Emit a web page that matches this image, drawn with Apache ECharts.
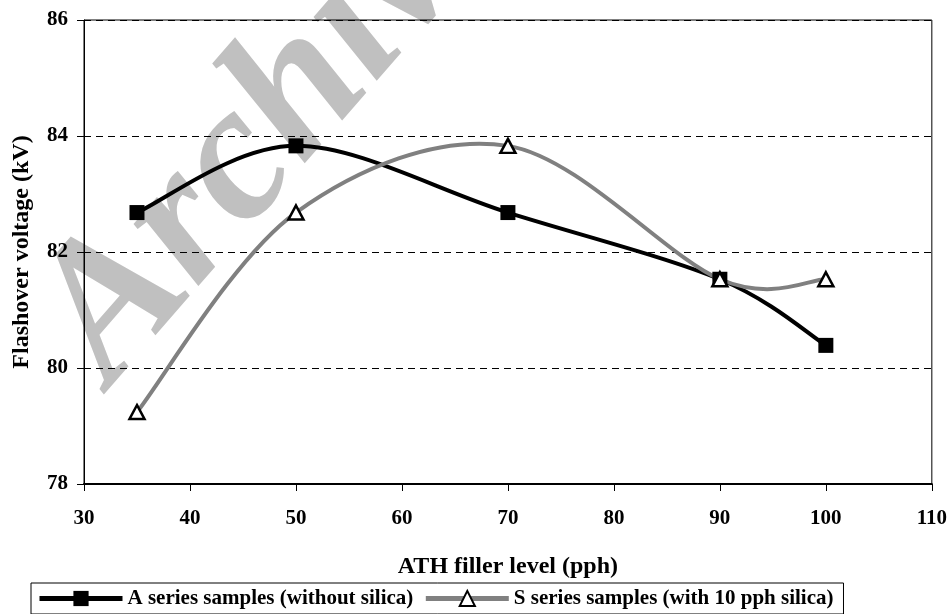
<!DOCTYPE html>
<html>
<head>
<meta charset="utf-8">
<script src="https://cdn.jsdelivr.net/npm/echarts@6/dist/echarts.min.js"></script>
<style>
html,body{margin:0;padding:0;background:#fff;}
#chart{width:950px;height:614px;}
</style>
</head>
<body>
<div id="chart"></div>
<script>
const fillerLevels = [35, 50, 70, 90, 100];
const seriesA = [82.68, 83.83, 82.68, 81.53, 80.39];
const seriesS = [79.24, 82.68, 83.83, 81.53, 81.53];
const nameA = 'A series samples (without silica)';
const nameS = 'S series samples (with 10 pph silica)';
const xTitle = 'ATH filler level (pph)';
const yTitle = 'Flashover voltage (kV)';
const watermark = 'Archive';

const FONT = '"Liberation Serif", "Times New Roman", serif';
const chart = echarts.init(document.getElementById('chart'), null, {renderer: 'canvas'});

// Smoothed curve (Excel-like cardinal spline) drawn through the library's coordinate system
function curveSeries(values, color, width, z) {
  return {
    type: 'custom',
    coordinateSystem: 'cartesian2d',
    silent: true,
    z: z,
    clip: false,
    data: [[fillerLevels[0], values[0]]],
    renderItem: function (params, api) {
      const pts = fillerLevels.map((x, i) => api.coord([x, values[i]]));
      const n = pts.length;
      let d = 'M' + pts[0][0] + ',' + pts[0][1];
      for (let i = 0; i < n - 1; i++) {
        const p0 = pts[Math.max(i - 1, 0)], p1 = pts[i], p2 = pts[i + 1], p3 = pts[Math.min(i + 2, n - 1)];
        const c1x = p1[0] + (p2[0] - p0[0]) / 6, c1y = p1[1] + (p2[1] - p0[1]) / 6;
        const c2x = p2[0] - (p3[0] - p1[0]) / 6, c2y = p2[1] - (p3[1] - p1[1]) / 6;
        d += ' C' + c1x + ',' + c1y + ' ' + c2x + ',' + c2y + ' ' + p2[0] + ',' + p2[1];
      }
      return {
        type: 'path',
        shape: {pathData: d},
        style: {stroke: color, lineWidth: width, fill: null, lineJoin: 'round', lineCap: 'round'}
      };
    }
  };
}

const option = {
  backgroundColor: '#fff',
  animation: false,
  graphic: [{
    type: 'text',
    x: 146, y: 418,
    rotation: 49 * Math.PI / 180,
    z: -10,
    silent: true,
    style: {
      text: watermark,
      font: 'italic bold 195px "Liberation Serif"',
      fill: '#c0c0c0',
      align: 'left',
      verticalAlign: 'bottom'
    }
  }],
  grid: {
    left: 84, right: 17, top: 20, bottom: 130,
    show: true, borderColor: '#000', borderWidth: 1, backgroundColor: 'transparent'
  },
  legend: {
    left: 31, top: 583,
    padding: [5, 10, 5, 6],
    itemWidth: 83, itemHeight: 19, itemGap: 10,
    borderColor: '#000', borderWidth: 1,
    textStyle: {fontFamily: FONT, fontWeight: 'bold', fontSize: 21, color: '#000'},
    data: [
      {name: nameA, lineStyle: {color: '#000', width: 5, opacity: 1}},
      {name: nameS, lineStyle: {color: '#808080', width: 5, opacity: 1}}
    ]
  },
  xAxis: {
    type: 'value', min: 30, max: 110, interval: 10,
    name: xTitle, nameLocation: 'middle', nameGap: 71,
    nameTextStyle: {fontFamily: FONT, fontWeight: 'bold', fontSize: 24, color: '#000'},
    axisLine: {show: true, lineStyle: {color: '#000', width: 2}},
    axisTick: {show: true, inside: false, length: 7, lineStyle: {color: '#000', width: 1}},
    axisLabel: {margin: 24, fontFamily: FONT, fontWeight: 'bold', fontSize: 21, color: '#000'},
    splitLine: {show: false}
  },
  yAxis: {
    type: 'value', min: 78, max: 86, interval: 2,
    name: yTitle, nameLocation: 'middle', nameGap: 50,
    nameTextStyle: {fontFamily: FONT, fontWeight: 'bold', fontSize: 24, color: '#000'},
    axisLine: {show: true, lineStyle: {color: '#000', width: 1}},
    axisTick: {show: true, inside: false, length: 7, lineStyle: {color: '#000', width: 1}},
    axisLabel: {margin: 16, fontFamily: FONT, fontWeight: 'bold', fontSize: 21, color: '#000'},
    splitLine: {show: true, lineStyle: {color: '#000', width: 1, type: [7, 5]}}
  },
  series: [
    curveSeries(seriesA, '#000', 4, 2),
    curveSeries(seriesS, '#808080', 4, 2),
    {
      name: nameA, type: 'line',
      data: fillerLevels.map((x, i) => [x, seriesA[i]]),
      symbol: 'rect', symbolSize: 15,
      itemStyle: {color: '#000', borderColor: '#000', borderWidth: 0},
      lineStyle: {color: '#000', width: 4, opacity: 0},
      z: 3
    },
    {
      name: nameS, type: 'line',
      data: fillerLevels.map((x, i) => [x, seriesS[i]]),
      symbol: 'triangle', symbolSize: [15, 14],
      itemStyle: {color: '#fff', borderColor: '#000', borderWidth: 2.5},
      lineStyle: {color: '#808080', width: 4, opacity: 0},
      z: 4
    }
  ]
};
chart.setOption(option);
</script>
</body>
</html>
